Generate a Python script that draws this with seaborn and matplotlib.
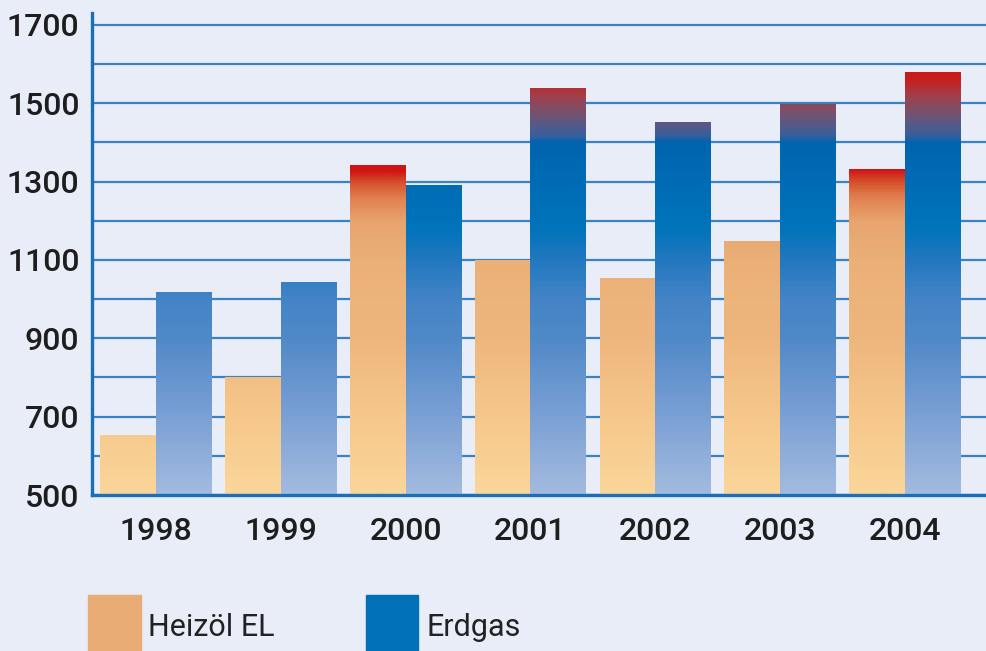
import numpy as np
import pandas as pd
import matplotlib
matplotlib.use("Agg")
import matplotlib.pyplot as plt
import seaborn as sns
from matplotlib.colors import LinearSegmentedColormap, Normalize
from matplotlib.patches import Rectangle

# data
years = ["1998", "1999", "2000", "2001", "2002", "2003", "2004"]
heizoel = [652, 800, 1342, 1098, 1052, 1147, 1330]
erdgas = [1016, 1041, 1291, 1537, 1450, 1496, 1577]
series = ["Heizöl EL", "Erdgas"]
y_ticks = list(range(500, 1800, 100))

df = pd.DataFrame({
    "Jahr": years * 2,
    "Wert": heizoel + erdgas,
    "Typ": [series[0]] * len(years) + [series[1]] * len(years),
})

# colour ramps depend on the absolute value (not on the bar height)
lo, hi = 500, 1600
def ramp(stops):
    return LinearSegmentedColormap.from_list(
        "r", [((v - lo) / (hi - lo), c) for v, c in stops])

cmap_oil = ramp([(500, "#fad69a"), (700, "#f6c78a"), (900, "#eeb67d"),
                 (1100, "#eab078"), (1200, "#e8a46e"), (1260, "#e0804f"),
                 (1300, "#d6502c"), (1330, "#d01414"), (1600, "#d01010")])
cmap_gas = ramp([(500, "#a4bbe0"), (700, "#7aa0d4"), (900, "#5089c8"),
                 (1000, "#4384c6"), (1100, "#2278c0"), (1180, "#0074bb"),
                 (1300, "#006cb5"), (1400, "#0064af"), (1420, "#3a5f9c"),
                 (1470, "#705574"), (1520, "#a0404a"), (1560, "#c82020"),
                 (1600, "#d01010")])

bg = "#e9edf8"
blue = "#1a6fba"

sns.set_style("white")
plt.rcParams["font.family"] = ["Roboto", "DejaVu Sans"]

fig = plt.figure(figsize=(9.87, 6.51), dpi=100, facecolor=bg)
ax = fig.add_axes([0.0932, 0.2396, 0.9068, 0.7404])
ax.set_facecolor(bg)

sns.barplot(data=df, x="Jahr", y="Wert", hue="Typ", ax=ax,
            palette=["#eaae76", "#0070b8"], width=0.89, linewidth=0,
            legend=False, zorder=3)

# replace flat fill by gradient images covering each bar
norm = Normalize(lo, hi)
for cont, cmap in zip(ax.containers, [cmap_oil, cmap_gas]):
    for bar in cont:
        x0 = bar.get_x()
        x1 = x0 + bar.get_width()
        top = bar.get_y() + bar.get_height()
        vals = np.linspace(500, top, 300).reshape(-1, 1)
        ax.imshow(vals, cmap=cmap, norm=norm, origin="lower", aspect="auto",
                  extent=[x0, x1, 500, top], zorder=4, interpolation="bilinear")
        bar.set_alpha(0)
ax.set_xlim(-0.513, 6.66)
ax.set_ylim(500, 1730)

ax.set_yticks(y_ticks)
ax.set_yticklabels([str(t) if t % 200 == 100 else "" for t in y_ticks])
ax.yaxis.grid(True, color=blue, linewidth=1.6, alpha=0.85, zorder=1)
ax.set_axisbelow(True)
ax.set_xlabel("")
ax.set_ylabel("")

for s in ["top", "right"]:
    ax.spines[s].set_visible(False)
for s in ["left", "bottom"]:
    ax.spines[s].set_color(blue)
    ax.spines[s].set_linewidth(2.4)
    ax.spines[s].set_zorder(6)

ax.tick_params(axis="both", length=0, labelsize=23, labelcolor="#1e1e1e")
ax.tick_params(axis="y", pad=9)
ax.tick_params(axis="x", pad=16)
for lab in ax.get_xticklabels() + ax.get_yticklabels():
    lab.set_fontweight("medium")

# legend squares and labels
fig.patches.append(Rectangle((88 / 987, 0), 53 / 987, 56 / 651,
                             transform=fig.transFigure, color="#e9ac74"))
fig.patches.append(Rectangle((366 / 987, 0), 52 / 987, 56 / 651,
                             transform=fig.transFigure, color="#0070b8"))
fig.text(148 / 987, 24 / 651, series[0], fontsize=22, color="#222222",
         va="center", ha="left")
fig.text(427 / 987, 24 / 651, series[1], fontsize=22, color="#222222",
         va="center", ha="left")

fig.savefig("out.png", dpi=100, facecolor=bg)
